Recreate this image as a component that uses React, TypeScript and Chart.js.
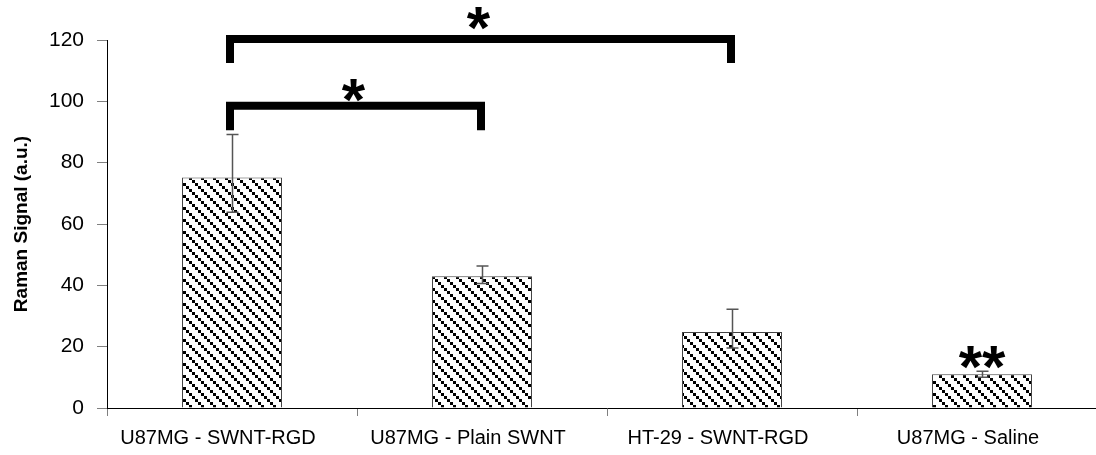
import React, { useEffect, useRef } from "react";
import { Chart, registerables } from "chart.js";

Chart.register(...registerables);

const categories = ["U87MG - SWNT-RGD", "U87MG - Plain SWNT", "HT-29 - SWNT-RGD", "U87MG - Saline"];
const ramanSignal = [75.2, 43.0, 24.8, 11.0];
const errorHigh = [89.2, 46.3, 32.2, 12.0];
const errorLow = [63.8, 40.6, 19.6, 10.0];
const yTicks = [0, 20, 40, 60, 80, 100, 120];

// significance brackets
const bracketFrom = [0, 0];
const bracketTo = [2, 1];
const bracketTop = [120.3, 98.6];
const bracketLegBottom = [112.5, 90.6];
const bracketLabels = ["*", "*"];
const bracketLabelValue = [127, 103.5];

// extra significance marks above single bars
const markIndex = [3];
const markLabels = ["**"];
const markValue = [16.6];

const FONT = "'Liberation Sans', Arial, sans-serif";

function makeHatch(): CanvasPattern | string {
  const c = document.createElement("canvas");
  c.width = 12;
  c.height = 12;
  const g = c.getContext("2d");
  if (!g) return "#888";
  g.fillStyle = "#fff";
  g.fillRect(0, 0, 12, 12);
  g.fillStyle = "#000";
  for (let k = 0; k < 4; k++) {
    g.fillRect(k * 3, k * 3, 3, 3);
  }
  const p = g.createPattern(c, "repeat");
  return p || "#888";
}

const annotationPlugin = {
  id: "annotations",
  afterDraw(chart: any) {
    const ctx = chart.ctx as CanvasRenderingContext2D;
    const meta = chart.getDatasetMeta(0);
    const y = chart.scales.y;
    ctx.save();
    // error bars
    ctx.strokeStyle = "#555";
    ctx.lineWidth = 1.5;
    for (let i = 0; i < ramanSignal.length; i++) {
      const x = Math.round(meta.data[i].x) + 0.5;
      const yt = y.getPixelForValue(errorHigh[i]);
      const yb = y.getPixelForValue(errorLow[i]);
      ctx.beginPath();
      ctx.moveTo(x, yt);
      ctx.lineTo(x, yb);
      ctx.moveTo(x - 6, yt);
      ctx.lineTo(x + 6, yt);
      ctx.moveTo(x - 6, yb);
      ctx.lineTo(x + 6, yb);
      ctx.stroke();
    }
    // brackets
    ctx.strokeStyle = "#000";
    ctx.fillStyle = "#000";
    ctx.lineWidth = 8;
    ctx.lineJoin = "miter";
    ctx.lineCap = "butt";
    const drawStars = (text: string, cx: number, cy: number) => {
      ctx.font = `bold 60px ${FONT}`;
      ctx.textAlign = "center";
      ctx.textBaseline = "alphabetic";
      const m = ctx.measureText(text);
      const asc = m.actualBoundingBoxAscent;
      const desc = m.actualBoundingBoxDescent;
      const baseline = cy + (asc - desc) / 2;
      ctx.fillText(text, cx, baseline);
    };
    for (let b = 0; b < bracketFrom.length; b++) {
      const x1 = meta.data[bracketFrom[b]].x - 2;
      const x2 = meta.data[bracketTo[b]].x - 1;
      const yTop = y.getPixelForValue(bracketTop[b]);
      const yLeg = y.getPixelForValue(bracketLegBottom[b]);
      ctx.beginPath();
      ctx.moveTo(x1, yLeg);
      ctx.lineTo(x1, yTop);
      ctx.lineTo(x2, yTop);
      ctx.lineTo(x2, yLeg);
      ctx.stroke();
      drawStars(bracketLabels[b], (x1 + x2) / 2 - 2, y.getPixelForValue(bracketLabelValue[b]));
    }
    for (let k = 0; k < markIndex.length; k++) {
      const x = meta.data[markIndex[k]].x;
      drawStars(markLabels[k], x, y.getPixelForValue(markValue[k]));
    }
    ctx.restore();
  },
};

export default function App() {
  const ref = useRef<HTMLCanvasElement | null>(null);
  useEffect(() => {
    if (!ref.current) return;
    const hatch = makeHatch();
    const chart = new Chart(ref.current, {
      type: "bar",
      data: {
        labels: categories,
        datasets: [
          {
            data: ramanSignal,
            backgroundColor: hatch as any,
            borderColor: "#444",
            borderWidth: 1,
            barPercentage: 0.4,
            categoryPercentage: 1,
          },
        ],
      },
      options: {
        responsive: false,
        animation: false,
        devicePixelRatio: 1,
        layout: { padding: { top: 40, right: 3, bottom: 0, left: 0 } },
        plugins: { legend: { display: false }, tooltip: { enabled: false } },
        scales: {
          x: {
            grid: { offset: true, drawOnChartArea: false, tickLength: 8, color: "#808080" },
            border: { color: "#000" },
            ticks: {
              font: { family: FONT, size: 20 },
              color: "#000",
              padding: 10,
              autoSkip: false,
              maxRotation: 0,
              labelOffset: -14,
            },
            afterFit: (s: any) => {
              s.height = 47;
            },
          },
          y: {
            min: 0,
            max: 120,
            afterBuildTicks: (s: any) => {
              s.ticks = yTicks.map((v) => ({ value: v }));
            },
            grid: { drawOnChartArea: false, tickLength: 10, color: "#808080" },
            border: { color: "#000" },
            ticks: { font: { family: FONT, size: 21 }, color: "#000", padding: 13 },
            title: {
              display: true,
              text: "Raman Signal (a.u.)",
              font: { family: FONT, size: 19, weight: "bold" },
              color: "#000",
              padding: { top: 10, bottom: 0 },
            },
            afterFit: (s: any) => {
              s.width = 107;
            },
          },
        },
      },
      plugins: [annotationPlugin],
    });
    return () => chart.destroy();
  }, []);
  return (
    <div style={{ position: "absolute", left: 0, top: 0, width: 1096, height: 455, overflow: "hidden", background: "#fff" }}>
      <canvas ref={ref} width={1110} height={455} style={{ display: "block", width: 1110, height: 455 }} />
    </div>
  );
}
